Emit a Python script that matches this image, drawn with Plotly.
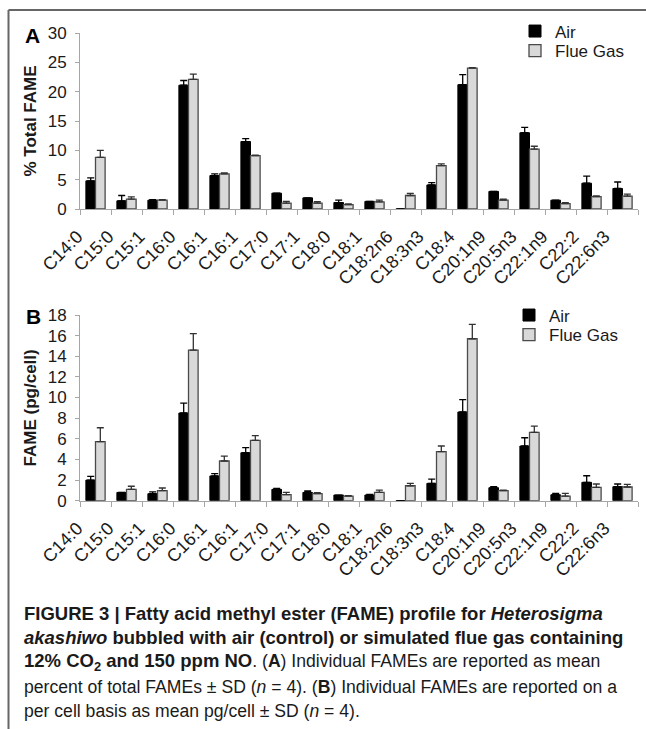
import plotly.graph_objects as go

categories = ["C14:0", "C15:0", "C15:1", "C16:0", "C16:1", "C16:1", "C17:0", "C17:1",
              "C18:0", "C18:1", "C18:2n6", "C18:3n3", "C18:4", "C20:1n9", "C20:5n3",
              "C22:1n9", "C22:2", "C22:6n3"]

# Panel A: % total FAME (mean, SD)
pct_air = [4.8, 1.4, 1.5, 21.1, 5.7, 11.5, 2.7, 1.9, 1.1, 1.3, 0, 4.1, 21.2, 3.0, 13.0, 1.5, 4.4, 3.5]
pct_air_sd = [0.5, 0.9, 0.1, 0.8, 0.3, 0.5, 0, 0, 0.4, 0, 0, 0.4, 1.7, 0, 0.9, 0, 1.2, 1.1]
pct_flue = [8.8, 1.7, 1.5, 22.1, 6.0, 9.1, 1.0, 1.0, 0.75, 1.2, 2.3, 7.4, 24.0, 1.5, 10.2, 0.9, 2.1, 2.2]
pct_flue_sd = [1.2, 0.35, 0.1, 0.9, 0.15, 0.1, 0.3, 0.25, 0.1, 0.3, 0.35, 0.3, 0.1, 0.2, 0.5, 0.2, 0.15, 0.35]

# Panel B: FAME pg/cell (mean, SD)
pg_air = [2.0, 0.8, 0.68, 8.5, 2.4, 4.65, 1.1, 0.8, 0.55, 0.55, 0, 1.68, 8.6, 1.26, 5.3, 0.58, 1.78, 1.36]
pg_air_sd = [0.35, 0, 0.17, 0.95, 0.23, 0.5, 0.1, 0.14, 0, 0.05, 0, 0.42, 1.2, 0.1, 0.8, 0.13, 0.64, 0.26]
pg_flue = [5.72, 1.1, 0.97, 14.6, 3.85, 5.85, 0.58, 0.68, 0.45, 0.8, 1.45, 4.75, 15.7, 0.97, 6.63, 0.45, 1.3, 1.33]
pg_flue_sd = [1.35, 0.3, 0.26, 1.6, 0.48, 0.45, 0.22, 0.1, 0.03, 0.23, 0.23, 0.55, 1.4, 0.06, 0.6, 0.26, 0.32, 0.25]

pct_ticks = [0, 5, 10, 15, 20, 25, 30]
pg_ticks = [0, 2, 4, 6, 8, 10, 12, 14, 16, 18]

# make duplicate category labels unique (invisible suffix) so both C16:1 appear
labels = []
for c in categories:
    lab = c
    while lab in labels:
        lab += "\u200b"
    labels.append(lab)

W, H = 646, 729
FONT = "Liberation Sans, Arial, sans-serif"
AIR_C = "#000000"
FLUE_C = "#d9d9d9"
FLUE_LINE = "#4a4a4a"
AX_C = "#a6a6a6"
TXT = "#1a1a1a"


def PX(p):
    return p / W


def PY(p):
    return 1 - p / H


fig = go.Figure()


def add_pair(air, air_sd, flue, flue_sd, xa, ya, leg_air, leg_flue):
    fig.add_trace(go.Bar(
        x=labels, y=air, name="Air", xaxis=xa, yaxis=ya, legend=leg_air,
        marker=dict(color=AIR_C, line=dict(color="#000000", width=1)),
        error_y=dict(type="data", array=air_sd, arrayminus=[0] * len(air_sd), symmetric=False,
                     color="#000000", thickness=1.3, width=3.5),
    ))
    fig.add_trace(go.Bar(
        x=labels, y=flue, name="Flue Gas", xaxis=xa, yaxis=ya, legend=leg_flue,
        marker=dict(color=FLUE_C, line=dict(color=FLUE_LINE, width=1.3)),
        error_y=dict(type="data", array=flue_sd, arrayminus=[0] * len(flue_sd), symmetric=False,
                     color="#333333", thickness=1.3, width=3.5),
    ))


add_pair(pct_air, pct_air_sd, pct_flue, pct_flue_sd, "x", "y", "legend", "legend2")
add_pair(pg_air, pg_air_sd, pg_flue, pg_flue_sd, "x2", "y2", "legend3", "legend4")

xdom = [PX(80), PX(638)]
xcommon = dict(
    type="category", categoryorder="array", categoryarray=labels,
    domain=xdom, showline=True, linecolor=AX_C, linewidth=1,
    ticks="outside", tickson="boundaries", ticklen=5, tickcolor=AX_C, tickwidth=1,
    tickangle=-45, tickfont=dict(family=FONT, size=18, color=TXT),
    ticklabelshift=-18, ticklabelstandoff=9, automargin=False,
    showgrid=False, zeroline=False, fixedrange=True,
)
ycommon = dict(
    showline=True, linecolor=AX_C, linewidth=1, ticks="outside", ticklen=4,
    tickcolor=AX_C, tickwidth=1, tickfont=dict(family=FONT, size=17, color=TXT),
    ticklabelstandoff=5, automargin=False,
    showgrid=False, zeroline=False, fixedrange=True,
)


def leg(xtext, ycenter):
    return dict(x=PX(xtext - 48), y=PY(ycenter), xanchor="left", yanchor="middle",
                font=dict(family=FONT, size=17, color=TXT),
                bgcolor="rgba(0,0,0,0)", tracegroupgap=0, itemwidth=30)


fig.update_layout(
    width=W, height=H, autosize=False,
    margin=dict(l=0, r=0, t=0, b=0, pad=0, autoexpand=False),
    paper_bgcolor="white", plot_bgcolor="white",
    barmode="group", bargap=0.38, bargroupgap=0.0,
    xaxis=dict(**xcommon, anchor="y"),
    yaxis=dict(**ycommon, anchor="x", domain=[PY(209), PY(33)], range=[0, 30],
               tickvals=pct_ticks,
               title=dict(text="<b>% Total FAME</b>", font=dict(family=FONT, size=17, color=TXT),
                          standoff=6)),
    xaxis2=dict(**xcommon, anchor="y2"),
    yaxis2=dict(**ycommon, anchor="x2", domain=[PY(500.7), PY(315)], range=[0, 18],
                tickvals=pg_ticks,
                title=dict(text="<b>FAME (pg/cell)</b>", font=dict(family=FONT, size=17, color=TXT),
                           standoff=6)),
    legend=leg(563, 31.5),
    legend2=leg(563, 51),
    legend3=leg(557, 315.5),
    legend4=leg(557, 335),
    font=dict(family=FONT),
    showlegend=True,
)

# frame lines (top and left)
fig.add_shape(type="line", xref="paper", yref="paper", x0=PX(8.5), x1=1, y0=PY(10), y1=PY(10),
              line=dict(color="#666666", width=2), layer="above")
fig.add_shape(type="line", xref="paper", yref="paper", x0=PX(8.5), x1=PX(8.5), y0=PY(10), y1=0,
              line=dict(color="#666666", width=2), layer="above")

# panel letters
fig.add_annotation(text="<b>A</b>", xref="paper", yref="paper", x=PX(23), y=PY(35.5),
                   xanchor="left", yanchor="middle", showarrow=False,
                   font=dict(family=FONT, size=21, color="#000000"))
fig.add_annotation(text="<b>B</b>", xref="paper", yref="paper", x=PX(24), y=PY(316.5),
                   xanchor="left", yanchor="middle", showarrow=False,
                   font=dict(family=FONT, size=21, color="#000000"))

BS = '<span style="font-size:18.5px">'
caption = [
    "<b>" + BS + "FIGURE 3 | Fatty acid methyl ester (FAME) profile for <i>Heterosigma</i></span></b>",
    "<b>" + BS + "<i>akashiwo</i> bubbled with air (control) or simulated flue gas containing</span></b>",
    "<b>" + BS + "12% CO<sub>2</sub> and 150 ppm NO</span></b>. (<b>A</b>) Individual FAMEs are reported as mean",
    "percent of total FAMEs \u00b1 SD (<i>n</i> = 4). (<b>B</b>) Individual FAMEs are reported on a",
    "per cell basis as mean pg/cell \u00b1 SD (<i>n</i> = 4).",
]
cap_y = [613, 637.5, 662, 686.5, 711]
for t, yy in zip(caption, cap_y):
    fig.add_annotation(text=t, xref="paper", yref="paper", x=PX(22), y=PY(yy),
                       xanchor="left", yanchor="middle", showarrow=False, align="left",
                       font=dict(family=FONT, size=17.6, color=TXT))

fig.write_html("out.html",
               config={"displayModeBar": False, "staticPlot": True},
               post_script="document.body.style.margin='0';document.body.style.overflow='hidden';")
